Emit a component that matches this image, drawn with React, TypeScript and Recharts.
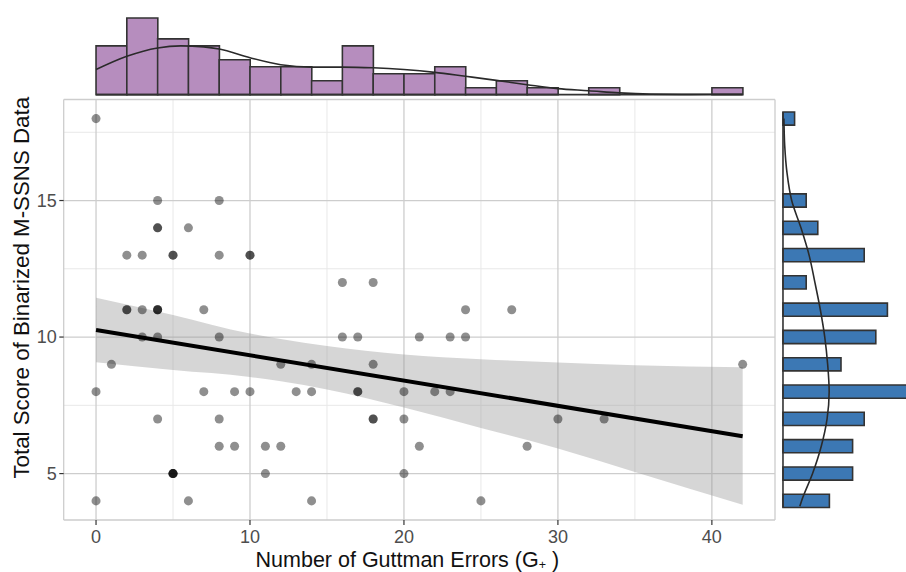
import React from 'react';
import {
  ComposedChart,
  Scatter,
  Area,
  Line,
  Bar,
  XAxis,
  YAxis,
  CartesianGrid,
  ReferenceLine,
  Label,
} from 'recharts';

// ---- data ----
const xTicks = [0, 10, 20, 30, 40];
const xMinor = [5, 15, 25, 35];
const yTicks = [5, 10, 15];
const yMinor = [7.5, 12.5, 17.5];

// scatter points (duplicates reproduce the darker overlapping dots)
const pointsRaw: [number, number][] = [
  [0, 18], [0, 8], [0, 4],
  [1, 9],
  [2, 13], [2, 11], [2, 11],
  [3, 13], [3, 11], [3, 10],
  [4, 15], [4, 14], [4, 14], [4, 11], [4, 11], [4, 11], [4, 10], [4, 7],
  [5, 13], [5, 13], [5, 5], [5, 5], [5, 5], [5, 5],
  [6, 14], [6, 4],
  [7, 11], [7, 8],
  [8, 15], [8, 13], [8, 10], [8, 7], [8, 6],
  [9, 8], [9, 6],
  [10, 13], [10, 13], [10, 8],
  [11, 6], [11, 5],
  [12, 9], [12, 6],
  [13, 8],
  [14, 9], [14, 8], [14, 4],
  [16, 12], [16, 10],
  [17, 10], [17, 8], [17, 8],
  [18, 12], [18, 9], [18, 7], [18, 7],
  [20, 8], [20, 7], [20, 5],
  [21, 10], [21, 6],
  [22, 8],
  [23, 10], [23, 8],
  [24, 11], [24, 10],
  [25, 4],
  [27, 11],
  [28, 6],
  [30, 7],
  [33, 7],
  [42, 9],
];

// regression line end points
const fitX = [0, 42];
const fitY = [10.26, 6.37];

// confidence band
const bandX = [0, 5, 10, 12, 15, 20, 25, 30, 35, 42];
const bandLo = [9.08, 8.79, 8.54, 8.38, 8.08, 7.42, 6.67, 5.92, 5.06, 3.86];
const bandHi = [11.44, 10.81, 10.13, 9.93, 9.67, 9.36, 9.19, 9.07, 8.97, 8.89];

// top marginal histogram (bins of width 2 from 0 to 42)
const topBinLabels = ['0-2', '2-4', '4-6', '6-8', '8-10', '10-12', '12-14', '14-16', '16-18', '18-20', '20-22',
  '22-24', '24-26', '26-28', '28-30', '30-32', '32-34', '34-36', '36-38', '38-40', '40-42'];
const topCounts = [7, 11, 8, 7, 5, 4, 4, 2, 7, 3, 3, 4, 1, 2, 1, 0, 1, 0, 0, 0, 1];
const topDensX = [0, 2, 4, 5.5, 7, 8, 10, 12, 14, 16, 18, 20, 22, 24, 26, 28, 30, 32, 34, 36, 38, 40, 42];
const topDensY = [3.6, 5.5, 6.7, 7.0, 6.85, 6.55, 5.3, 4.3, 3.95, 3.95, 3.85, 3.6, 3.2, 2.63, 2.05, 1.43, 0.86, 0.57, 0.25, 0.08, 0.04, 0.05, 0.07];

// right marginal histogram (top to bottom)
const rightY = [18, 17, 16, 15, 14, 13, 12, 11, 10, 9, 8, 7, 6, 5, 4];
const rightCounts = [1, 0, 0, 2, 3, 7, 2, 9, 8, 5, 11, 7, 6, 6, 4];
const rightDensY = [18, 17, 16, 15, 14, 13, 12, 11, 10, 9, 8, 7, 6, 5, 4, 3.8];
const rightDensX = [0.08, 0.15, 0.35, 0.75, 1.55, 2.25, 2.75, 3.22, 3.6, 3.85, 3.98, 3.8, 3.3, 2.55, 1.6, 1.45];

// ---- tables built from the arrays ----
const points = pointsRaw.map(([x, y]) => ({ x, y }));
const fitRows = fitX.map((x, i) => ({ x, y: fitY[i] }));
const bandRows = bandX.map((x, i) => ({ x, range: [bandLo[i], bandHi[i]] }));
const topBins = topBinLabels.map((bin, i) => ({ bin, count: topCounts[i] }));
const topDensity = topDensX.map((x, i) => ({ x, d: topDensY[i] }));
const rightBins = rightY.map((y, i) => ({ y: String(y), count: rightCounts[i] }));
const rightDensity = rightDensY.map((y, i) => ({ y, d: rightDensX[i] }));

const X_DOMAIN: [number, number] = [-2.1, 44.1];
const Y_DOMAIN: [number, number] = [3.3, 18.7];

const FONT = '"Liberation Sans", Arial, Helvetica, sans-serif';
const OUTLINE = '#333333';

function mapAxis(axis: any, v: number, start: number, size: number, dom: [number, number], invert: boolean) {
  if (axis && typeof axis.scale === 'function') return axis.scale(v);
  const t = (v - dom[0]) / (dom[1] - dom[0]);
  return invert ? start + size * (1 - t) : start + size * t;
}

const minorV = (p: any) =>
  xMinor.map((v) => mapAxis(p.xAxis, v, p.offset.left, p.offset.width, X_DOMAIN, false));
const minorH = (p: any) =>
  yMinor.map((v) => mapAxis(p.yAxis, v, p.offset.top, p.offset.height, Y_DOMAIN, true));

const YTitle = (props: any) => {
  const vb = props.viewBox || { x: 3.7, y: 99.5, width: 60, height: 420.5 };
  const cx = vb.x + 18;
  const cy = vb.y + vb.height / 2 - 22;
  return (
    <text
      x={cx}
      y={cy}
      transform={`rotate(-90 ${cx} ${cy})`}
      textAnchor="middle"
      dominantBaseline="central"
      fontSize={22.3}
      fill="#111"
      fontFamily={FONT}
    >
      Total Score of Binarized M-SSNS Data
    </text>
  );
};

const XTitle = (props: any) => {
  const vb = props.viewBox || { x: 63.7, y: 520, width: 711.3, height: 30 };
  const cx = vb.x + vb.width / 2 - 12;
  const y = vb.y + 46.9;
  return (
    <text x={cx} y={y} textAnchor="middle" fontSize={21.5} fill="#111" fontFamily={FONT}>
      Number of Guttman Errors (G
      <tspan fontSize={12.5} dy={2.4}>+</tspan>
      <tspan dy={-2.4}> )</tspan>
    </text>
  );
};

export default function App() {
  return (
    <div
      style={{
        position: 'fixed',
        left: 0,
        top: 0,
        width: 906,
        height: 572,
        overflow: 'hidden',
        background: '#ffffff',
        fontFamily: FONT,
      }}
    >
      {/* main scatter panel */}
      <div style={{ position: 'absolute', left: 0, top: 0 }}>
        <ComposedChart
          width={906}
          height={572}
          data={bandRows}
          margin={{ top: 99.5, right: 131, bottom: 22, left: 3.7 }}
        >
          <CartesianGrid
            stroke="#E8E8E8"
            strokeWidth={1}
            verticalCoordinatesGenerator={minorV}
            horizontalCoordinatesGenerator={minorH}
          />
          <CartesianGrid stroke="#CDCDCD" strokeWidth={1.3} />
          <XAxis
            type="number"
            dataKey="x"
            domain={X_DOMAIN}
            ticks={xTicks}
            allowDataOverflow
            axisLine={false}
            tickLine={{ stroke: OUTLINE, strokeWidth: 1.2 }}
            tickSize={5}
            tickMargin={5.5}
            height={30}
            tick={{ fill: '#4D4D4D', fontSize: 18, fontFamily: FONT }}
          >
            <Label content={<XTitle />} />
          </XAxis>
          <YAxis
            type="number"
            domain={Y_DOMAIN}
            ticks={yTicks}
            allowDataOverflow
            axisLine={false}
            tickLine={{ stroke: OUTLINE, strokeWidth: 1.2 }}
            tickSize={4.4}
            tickMargin={2.6}
            width={60}
            tick={{ fill: '#4D4D4D', fontSize: 18, fontFamily: FONT }}
          >
            <Label content={<YTitle />} />
          </YAxis>
          <Scatter
            data={points}
            dataKey="y"
            fill="#000000"
            fillOpacity={0.44}
            isAnimationActive={false}
          />
          <Area
            dataKey="range"
            type="monotone"
            fill="#999999"
            fillOpacity={0.4}
            stroke="none"
            isAnimationActive={false}
          />
          <Line
            data={fitRows}
            dataKey="y"
            type="linear"
            stroke="#000000"
            strokeWidth={4}
            dot={false}
            isAnimationActive={false}
          />
        </ComposedChart>
      </div>

      {/* top marginal histogram bars (bins span x = 0..42 of the main scale) */}
      <div style={{ position: 'absolute', left: 0, top: 0 }}>
        <ComposedChart
          width={906}
          height={100}
          data={topBins}
          barCategoryGap={0}
          margin={{ top: 14.1, right: 163.3, bottom: 1.5, left: 96.03 }}
        >
          <XAxis type="category" dataKey="bin" hide />
          <YAxis type="number" domain={[-0.55, 11.55]} allowDataOverflow hide />
          <Bar
            dataKey="count"
            fill="#B68DBE"
            stroke={OUTLINE}
            strokeWidth={1.6}
            isAnimationActive={false}
          />
        </ComposedChart>
      </div>

      {/* top marginal density */}
      <div style={{ position: 'absolute', left: 0, top: 0 }}>
        <ComposedChart
          width={906}
          height={100}
          data={topDensity}
          margin={{ top: 14.1, right: 131, bottom: 1.5, left: 63.7 }}
        >
          <XAxis type="number" dataKey="x" domain={X_DOMAIN} allowDataOverflow hide />
          <YAxis type="number" domain={[-0.55, 11.55]} allowDataOverflow hide />
          <ReferenceLine
            segment={[{ x: 0, y: 0 }, { x: 42, y: 0 }]}
            stroke={OUTLINE}
            strokeWidth={1.6}
          />
          <Line
            dataKey="d"
            type="monotone"
            stroke="#2A2A2A"
            strokeWidth={1.6}
            dot={false}
            isAnimationActive={false}
          />
        </ComposedChart>
      </div>

      {/* right marginal histogram bars (categories 18..4 span 18.5..3.5) */}
      <div style={{ position: 'absolute', left: 0, top: 0 }}>
        <ComposedChart
          layout="vertical"
          width={930}
          height={572}
          data={rightBins}
          margin={{ top: 104.96, right: 13, bottom: 57.46, left: 776.6 }}
        >
          <XAxis type="number" domain={[-0.55, 11.55]} allowDataOverflow hide />
          <YAxis type="category" dataKey="y" hide />
          <Bar
            dataKey="count"
            barSize={13.2}
            fill="#3C78B4"
            stroke={OUTLINE}
            strokeWidth={1.6}
            isAnimationActive={false}
          />
        </ComposedChart>
      </div>

      {/* right marginal density */}
      <div style={{ position: 'absolute', left: 0, top: 0 }}>
        <ComposedChart
          layout="vertical"
          width={930}
          height={572}
          data={rightDensity}
          margin={{ top: 99.5, right: 13, bottom: 52, left: 776.6 }}
        >
          <XAxis type="number" domain={[-0.55, 11.55]} allowDataOverflow hide />
          <YAxis type="number" dataKey="y" domain={Y_DOMAIN} allowDataOverflow reversed hide />
          <ReferenceLine
            segment={[{ x: 0, y: 3.76 }, { x: 0, y: 18.24 }]}
            stroke={OUTLINE}
            strokeWidth={1.6}
          />
          <Line
            dataKey="d"
            type="monotone"
            stroke="#2A2A2A"
            strokeWidth={1.6}
            dot={false}
            isAnimationActive={false}
          />
        </ComposedChart>
      </div>
    </div>
  );
}
